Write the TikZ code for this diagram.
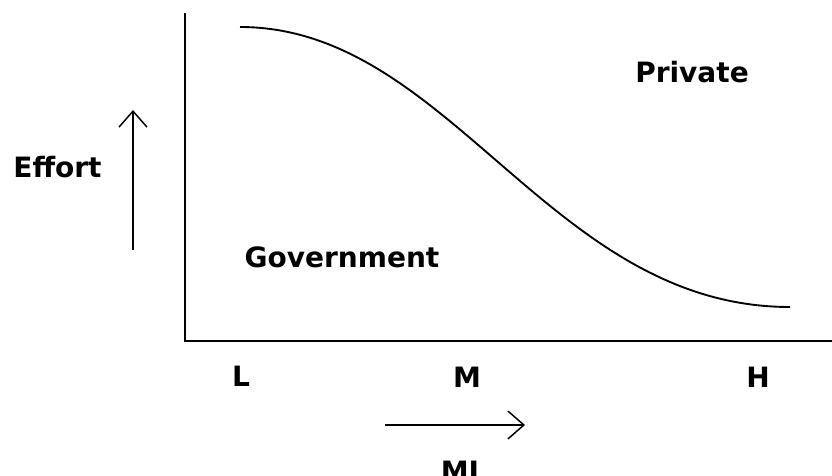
\documentclass[tikz,border=0pt]{standalone}
\usepackage{fontspec}
\setmainfont{DejaVu Sans}
\usetikzlibrary{arrows.meta}
\tikzset{
  lbl/.style={font=\bfseries\fontsize{21}{25}\selectfont, inner sep=0pt, anchor=base, text=black},
  axisline/.style={line width=1.6pt, black},
  curveline/.style={line width=1.4pt, black},
  dirarrow/.style={line width=1.1pt, black, -{Straight Barb[length=12pt, width=21pt, line width=1.1pt]}}
}
\begin{document}
\begin{tikzpicture}[x=0.75pt, y=-0.75pt]
\useasboundingbox (0,0) rectangle (832,475);
% axes
\coordinate (top) at (185,13);
\coordinate (origin) at (185,341);
\coordinate (right) at (832,341);
\draw[axisline] (top) -- (origin) -- (right);
% curve
\coordinate (cstart) at (240,27);
\coordinate (cend) at (790,307);
\draw[curveline] (cstart) .. controls (450,27) and (550,307) .. (cend);
% labels
\node[lbl] (effort) at (57.5,177) {Effort};
\node[lbl] (private) at (692,82) {Private};
\node[lbl] (gov) at (342,267) {Government};
\node[lbl] (L) at (241,386) {L};
\node[lbl] (M) at (467,387) {M};
\node[lbl] (H) at (758,387) {H};
\node[lbl] (MI) at (460,481) {MI};
% direction arrows
\coordinate (eA) at (133,250);
\coordinate (eB) at (133,110);
\draw[dirarrow] (eA) -- (eB);
\coordinate (mA) at (385,425);
\coordinate (mB) at (525,425);
\draw[dirarrow] (mA) -- (mB);
\end{tikzpicture}
\end{document}
